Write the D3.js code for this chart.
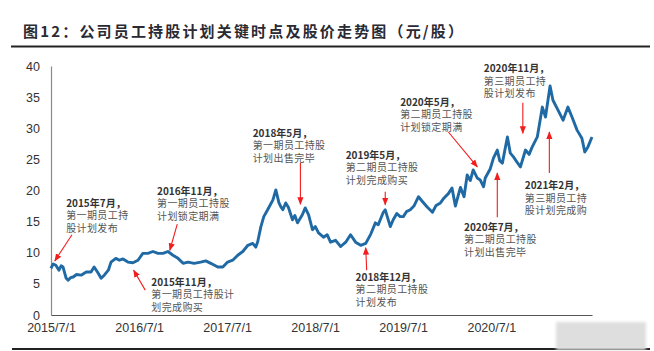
<!DOCTYPE html>
<html>
<head>
<meta charset="utf-8">
<script src="https://cdn.jsdelivr.net/npm/d3@7"></script>
<style>
  body { margin: 0; background: #fff; }
  svg { display: block; }
</style>
</head>
<body>
<svg id="chart" width="654" height="351"></svg>
<script>
// price series
const priceDates = [
  "2015-07-01","2015-07-10","2015-07-21","2015-08-03","2015-08-12","2015-08-20","2015-09-02","2015-09-10",
  "2015-09-20","2015-10-01","2015-10-15","2015-11-03","2015-11-24","2015-12-14","2015-12-27","2016-01-13",
  "2016-01-25","2016-02-07","2016-02-24","2016-03-06","2016-03-26","2016-04-10","2016-04-25","2016-05-15",
  "2016-06-05","2016-06-26","2016-07-16","2016-08-06","2016-08-27","2016-09-17","2016-10-08","2016-10-28",
  "2016-11-18","2016-12-09","2016-12-30","2017-01-20","2017-02-14","2017-03-13","2017-04-03","2017-04-24",
  "2017-05-23","2017-06-13","2017-07-03","2017-07-24","2017-08-14","2017-09-04","2017-09-25","2017-10-15",
  "2017-10-28","2017-11-05","2017-11-18","2017-11-30","2017-12-16","2018-01-07","2018-01-19","2018-02-01",
  "2018-02-10","2018-02-17","2018-03-01","2018-03-12","2018-03-29","2018-04-08","2018-04-19","2018-05-09",
  "2018-05-21","2018-06-04","2018-06-20","2018-07-02","2018-07-15","2018-08-05","2018-08-20","2018-09-03",
  "2018-09-24","2018-10-15","2018-11-05","2018-11-25","2018-12-16","2019-01-06","2019-01-27","2019-02-17",
  "2019-03-08","2019-03-20","2019-04-10","2019-04-18","2019-05-09","2019-05-21","2019-06-05","2019-06-19",
  "2019-07-02","2019-07-15","2019-07-31","2019-08-15","2019-09-03","2019-09-20","2019-10-10","2019-10-31",
  "2019-11-15","2019-12-03","2019-12-18","2020-01-05","2020-01-20","2020-02-03","2020-02-24","2020-03-10",
  "2020-03-23","2020-04-05","2020-04-17","2020-05-04","2020-05-16","2020-05-30","2020-06-06","2020-06-27",
  "2020-07-10","2020-07-26","2020-08-05","2020-08-16","2020-09-06","2020-09-18","2020-10-01","2020-10-15",
  "2020-10-30","2020-11-20","2020-12-05","2020-12-18","2021-01-08","2021-01-29","2021-02-11","2021-03-02",
  "2021-03-14","2021-04-04","2021-04-25","2021-05-15","2021-06-01","2021-06-22","2021-07-12","2021-07-24",
  "2021-08-06","2021-08-23"
];
const prices = [
  7.5, 8.2, 8.0, 7.2, 7.9, 7.7, 5.9, 5.6,
  6.0, 6.1, 6.5, 6.4, 6.9, 6.9, 7.7, 6.7,
  5.9, 6.4, 7.2, 8.5, 9.1, 8.8, 9.0, 8.5,
  8.4, 8.8, 9.9, 9.9, 10.2, 9.9, 9.9, 10.2,
  9.6, 9.1, 8.3, 8.5, 8.3, 8.5, 8.7, 8.3,
  7.7, 7.7, 8.5, 8.8, 9.6, 10.2, 11.2, 11.5,
  10.9, 11.8, 14.2, 15.8, 16.9, 18.5, 20.1, 18.0,
  17.3, 16.9, 18.0, 17.3, 15.3, 16.0, 14.8, 16.1,
  17.2, 16.1, 13.7, 14.2, 13.2, 12.5, 12.9, 11.7,
  12.0, 11.0, 11.7, 12.9, 11.7, 11.2, 11.5, 13.0,
  14.8, 14.5, 16.5, 16.9, 14.2, 15.3, 16.3, 15.8,
  15.8, 16.6, 16.9, 17.5, 19.0, 18.2, 17.3, 16.5,
  17.6, 18.0, 18.8, 19.5, 20.4, 17.5, 20.5, 19.0,
  22.5, 21.6, 23.3, 22.0, 21.7, 20.6, 22.0, 23.5,
  25.2, 26.5, 24.8, 24.4, 28.6, 26.0, 25.4, 24.6,
  23.8, 26.5, 25.8, 27.0, 28.6, 33.4, 31.8, 36.8,
  34.5, 32.9, 31.3, 33.4, 31.8, 29.7, 28.4, 26.2,
  27.0, 28.6
];

const xTickDates = ["2015-07-01","2016-07-01","2017-07-01","2018-07-01","2019-07-01","2020-07-01"];
const yTicks = [0, 5, 10, 15, 20, 25, 30, 35, 40];

// key events: label lines, where the label sits, arrow tail and arrow tip (date, value)
const eventLabels = [
  ["2015年7月，", "第一期员工持", "股计划发布"],
  ["2016年11月，", "第一期员工持股", "计划锁定期满"],
  ["2015年11月，", "第一期员工持股计", "划完成购买"],
  ["2018年5月，", "第一期员工持股", "计划出售完毕"],
  ["2019年5月，", "第二期员工持股", "计划完成购买"],
  ["2018年12月，", "第二期员工持股", "计划发布"],
  ["2020年5月，", "第二期员工持股", "计划锁定期满"],
  ["2020年7月，", "第二期员工持股", "计划出售完毕"],
  ["2020年11月，", "第三期员工持", "股计划发布"],
  ["2021年2月，", "第三期员工持", "股计划完成购"]
];
const eventLabelAt = [
  ["2015-09-02", 17.4], ["2016-09-13", 19.3], ["2016-08-20", 4.7], ["2017-10-15", 28.6],
  ["2018-11-05", 25.1], ["2018-12-16", 5.5], ["2019-06-19", 33.6], ["2020-03-10", 13.5],
  ["2020-05-31", 39.0], ["2020-11-17", 20.2]
];
const eventTail = [
  ["2015-09-26", 12.9], ["2016-12-06", 14.6], ["2016-07-26", 4.0], ["2018-05-01", 24.4],
  ["2019-04-18", 19.8], ["2019-01-31", 7.2], ["2020-01-05", 29.4], ["2020-07-26", 15.7],
  ["2020-11-09", 34.1], ["2021-02-27", 22.8]
];
const eventTip = [
  ["2015-07-17", 8.7], ["2016-11-05", 10.4], ["2016-06-08", 7.2], ["2018-05-01", 17.8],
  ["2019-04-18", 17.7], ["2019-01-27", 10.8], ["2020-05-04", 23.8], ["2020-07-26", 22.8],
  ["2020-11-09", 29.2], ["2021-02-27", 29.4]
];

const parse = d3.timeParse("%Y-%m-%d");
const series = priceDates.map((d, i) => ({ date: parse(d), val: prices[i] }));

const svg = d3.select("#chart");
const font = "'Noto Sans CJK SC', 'Noto Sans', sans-serif";

// title + rules
svg.append("text")
    .attr("x", 23).attr("y", 37)
    .attr("font-family", font)
    .attr("font-size", 15)
    .attr("font-weight", "bold")
    .attr("fill", "#2a2a33")
    .attr("textLength", 440)
    .attr("lengthAdjust", "spacing")
    .text("图12：公司员工持股计划关键时点及股价走势图（元/股）");

svg.append("line")
    .attr("x1", 11).attr("x2", 650).attr("y1", 46.5).attr("y2", 46.5)
    .attr("stroke", "#222").attr("stroke-width", 2);

svg.append("line")
    .attr("x1", 12).attr("x2", 650).attr("y1", 349).attr("y2", 349)
    .attr("stroke", "#222").attr("stroke-width", 2);

const x = d3.scaleTime()
    .domain([parse("2015-07-01"), parse("2021-08-23")])
    .range([51, 592]);
const y = d3.scaleLinear()
    .domain([0, 40])
    .range([315, 66]);

// axes
const yAxis = svg.append("g")
    .attr("transform", "translate(51,0)")
    .call(d3.axisLeft(y).tickValues(yTicks).tickSize(0).tickPadding(11));
yAxis.select(".domain").attr("stroke", "#8a8a8a").attr("stroke-width", 1.2);
yAxis.selectAll("text")
    .attr("font-family", "Arial, 'Liberation Sans', sans-serif")
    .attr("font-size", 12.5).attr("fill", "#333");

const xAxis = svg.append("g")
    .attr("transform", "translate(0,315)")
    .call(d3.axisBottom(x)
        .tickValues(xTickDates.map(parse))
        .tickFormat(d3.timeFormat("%Y/%-m/%-d"))
        .tickSize(0).tickPadding(8));
xAxis.select(".domain").attr("stroke", "#555").attr("stroke-width", 1.2);
xAxis.selectAll("text")
    .attr("font-family", "Arial, 'Liberation Sans', sans-serif")
    .attr("font-size", 12.5).attr("fill", "#333");

// price line
const line = d3.line()
    .x((d) => x(d.date))
    .y((d) => y(d.val));

svg.append("path")
    .datum(series)
    .attr("d", line)
    .attr("fill", "none")
    .attr("stroke", "#1f6aa5")
    .attr("stroke-width", 2.9)
    .attr("stroke-linejoin", "round");

// arrows
svg.append("defs").append("marker")
    .attr("id", "arrow")
    .attr("viewBox", "0 0 10 10")
    .attr("refX", 9).attr("refY", 5)
    .attr("markerWidth", 7).attr("markerHeight", 7)
    .attr("orient", "auto")
  .append("path")
    .attr("d", "M0,1 L10,5 L0,9 Z")
    .attr("fill", "#f21d1d");

svg.append("g").selectAll("line")
    .data(eventTail).enter()
  .append("line")
    .attr("x1", (d) => x(parse(d[0])))
    .attr("y1", (d) => y(d[1]))
    .attr("x2", (d, i) => x(parse(eventTip[i][0])))
    .attr("y2", (d, i) => y(eventTip[i][1]))
    .attr("stroke", "#f21d1d")
    .attr("stroke-width", 1.1)
    .attr("marker-end", "url(#arrow)");

// labels
const labels = svg.append("g").selectAll("text")
    .data(eventLabels).enter()
  .append("text")
    .attr("x", (d, i) => x(parse(eventLabelAt[i][0])))
    .attr("y", (d, i) => y(eventLabelAt[i][1]))
    .attr("font-family", font)
    .attr("font-size", 10);

labels.selectAll("tspan")
    .data((d) => d).enter()
  .append("tspan")
    .attr("x", function () { return this.parentNode.getAttribute("x"); })
    .attr("dy", (d, j) => j === 0 ? 0 : 12.5)
    .attr("font-weight", (d, j) => j === 0 ? "bold" : "normal")
    .attr("fill", (d, j) => j === 0 ? "#333" : "#555")
    .attr("letter-spacing", (d, j) => j === 0 ? 0 : 0.4)
    .text((d) => d);

// blurred watermark patch, bottom right
const blur = svg.select("defs").append("filter").attr("id", "soft");
blur.append("feGaussianBlur").attr("stdDeviation", 1.5);
svg.append("rect")
    .attr("x", 556).attr("y", 322).attr("width", 90).attr("height", 28)
    .attr("fill", "#dedede")
    .attr("filter", "url(#soft)");
</script>
</body>
</html>
